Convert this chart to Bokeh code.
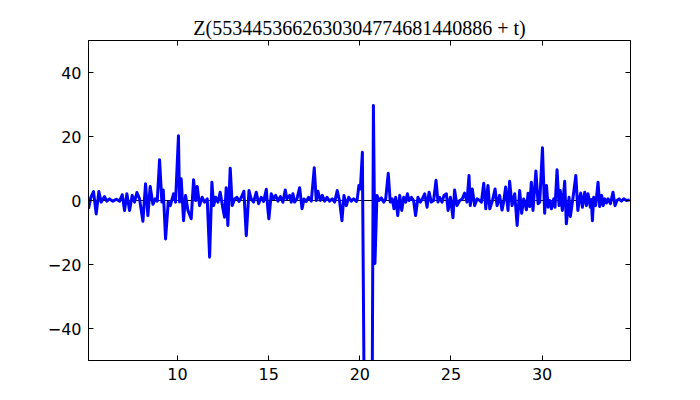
from bokeh.plotting import figure
from bokeh.models import LinearAxis, FixedTicker, Range1d, CustomJSTickFormatter, Span
from bokeh.embed import file_html
from bokeh.resources import INLINE

# (t, Z) – local extrema of the plotted curve
t_vals = [
    5.117, 5.245, 5.39, 5.538, 5.684, 5.81, 5.995, 6.12, 6.27, 6.45, 6.64, 6.82,
    6.965, 7.093, 7.22, 7.367, 7.514, 7.64, 7.77, 7.916, 8.099, 8.245, 8.373, 8.5,
    8.648, 8.775, 8.886, 9.014, 9.14, 9.215, 9.343, 9.49, 9.6, 9.782, 9.89,
    10.05, 10.11, 10.2, 10.33, 10.44, 10.57, 10.75, 10.88, 10.99, 11.08, 11.21,
    11.35, 11.48, 11.63, 11.76, 11.885, 11.98, 12.09, 12.215, 12.34, 12.49, 12.58,
    12.67, 12.76, 12.89, 13.0, 13.13, 13.26, 13.37, 13.5, 13.64, 13.77, 13.92,
    14.04, 14.17, 14.32, 14.45, 14.59, 14.72, 14.87, 14.96,
    15.01, 15.14, 15.27, 15.38, 15.51, 15.64, 15.78, 15.91, 16.0, 16.15, 16.24,
    16.33, 16.42, 16.55, 16.7, 16.83, 16.94, 17.06, 17.19, 17.34, 17.5, 17.61,
    17.7, 17.83, 17.94, 18.07, 18.2, 18.34, 18.49, 18.62, 18.76, 18.89, 19.02,
    19.13, 19.26, 19.39, 19.53, 19.66, 19.81,
    19.86, 19.95, 20.03, 20.14, 20.3, 20.5, 20.68, 20.745, 20.83, 20.94, 21.05,
    21.18, 21.31, 21.42, 21.56, 21.67, 21.78, 21.875, 21.97, 22.08, 22.19, 22.3,
    22.41, 22.52, 22.61, 22.7, 22.83, 22.95, 23.06, 23.19, 23.32, 23.43, 23.56,
    23.69, 23.8, 23.92, 24.05, 24.18, 24.29, 24.38, 24.51, 24.62,
    24.75, 24.84, 24.97, 25.11, 25.2, 25.33, 25.48, 25.62, 25.75, 25.88, 25.99,
    26.06, 26.17, 26.3, 26.43, 26.58, 26.67, 26.8, 26.91, 27.03, 27.13, 27.27,
    27.42, 27.53, 27.67, 27.8, 27.89, 28.0, 28.13, 28.22, 28.35, 28.5, 28.63,
    28.77, 28.88, 28.99, 29.14, 29.23, 29.32, 29.41, 29.5, 29.66, 29.78, 29.87,
    30.02, 30.14, 30.24, 30.33, 30.42, 30.51, 30.64, 30.71, 30.82, 30.93, 31.0,
    31.11, 31.24, 31.33, 31.48, 31.55, 31.7, 31.85, 31.96, 32.05, 32.12, 32.21,
    32.34, 32.43, 32.52, 32.65, 32.7, 32.76, 32.83, 32.94, 33.07, 33.16, 33.27,
    33.35, 33.44, 33.53, 33.62, 33.75, 33.89, 34.0, 34.11, 34.22, 34.35, 34.48,
    34.63, 34.81,
]
z_vals = [
    -2.6, 1.0, 2.8, -4.2, 2.8, -0.5, 1.2, -0.2, 0.5, -0.2, 0.4, -0.2,
    1.8, -3.1, 2.1, -3.1, 1.6, -0.5, 2.5, 0.5, -6.5, 5.2, -4.7, 4.4,
    -1.2, 0.5, -0.2, 12.7, -0.5, 3.3, -12.0, -0.5, -1.6, 2.1, -0.5,
    20.2, -0.5, 6.8, -6.3, 1.6, -3.1, -5.7, 6.5, 0.0, 4.4, -1.6,
    1.0, -0.5, 0.5, -17.7, 5.7, -1.6, 1.0, -0.5, 2.6, -2.6, -5.2,
    4.0, -7.8, 10.1, -1.6, 0.5, 1.0, -0.3, 1.0, 2.9, -11.0, 3.1,
    0.5, -0.5, 2.6, -1.0, 1.0, -0.3, 3.5, -3.1,
    -5.7, 2.1, 0.5, 1.6, -0.2, 1.2, -0.5, 3.3, 0.5, 1.6, -0.5,
    2.1, -0.5, 0.5, 4.0, -2.6, 0.5, -0.3, 1.0, -0.2, 10.2, 0.0,
    2.9, 0.0, 1.6, -0.2, 1.0, -0.2, 0.5, -0.5, 3.1, -0.2, -6.3,
    1.6, -1.6, 1.0, -0.2, 0.5, -0.3,
    0.5, 4.7, 3.6, 15.1, -110.0, -130.0, -60.0, 29.7, -19.7, 1.6, 0.0,
    0.8, -0.5, 0.5, 8.5, -0.5, 0.5, -2.6, 1.0, -4.7, 1.6, -3.1,
    1.0, -0.5, 2.1, 0.0, 1.0, 0.0, -4.7, 1.0, -0.5, 0.5, 2.1,
    -2.1, 2.6, -0.5, 0.0, 6.3, -0.5, 1.0, -0.5, 1.6,
    2.1, -3.1, 1.0, -5.4, 3.3, -1.6, 0.0, 0.5, 2.3, -0.5, 7.8,
    -1.6, 3.6, -1.6, 0.5, 0.0, -0.5, 5.4, -2.6, 4.7, -2.6, -0.2,
    3.6, -1.6, 1.6, -3.0, -0.5, 4.2, -3.1, 6.0, -1.6, 2.1, -7.8,
    3.1, -4.0, 0.5, -2.9, 2.3, -1.9, 5.7, -3.1, 9.2, -1.0, -0.5,
    16.5, -4.0, 4.7, -2.1, 0.0, -2.6, 0.5, -2.1, 9.6, -1.6, 3.1,
    -3.1, 6.0, -7.3, 1.0, -5.0, 1.0, 7.8, -3.1, 0.5, 2.3, -2.1,
    2.6, -1.6, 2.1, -2.1, 0.3, -6.3, 1.0, -1.6, 5.7, -1.9, 1.6,
    -1.6, 0.5, -0.8, 0.5, -1.0, 2.6, -1.6, 0.0, 0.5, -0.2, 0.5,
    0.0, 0.2,
]

x_ticks = [10, 15, 20, 25, 30]
y_ticks = [-40, -20, 0, 20, 40]
title_text = "Z(5534453662630304774681440886 + t)"

p = figure(
    output_backend="svg", toolbar_location=None,
    frame_width=542, frame_height=320,
    min_border_left=88, min_border_right=60, min_border_top=40, min_border_bottom=32,
    x_range=Range1d(5.115, 34.85), y_range=Range1d(-50, 50),
    x_axis_location=None, y_axis_location=None,
    background_fill_color="white", border_fill_color="white",
)
p.title.text = title_text
p.title.text_font = "Liberation Serif"
p.title.text_font_size = "20px"
p.title.text_font_style = "normal"
p.title.align = "center"
p.title.text_color = "black"
p.title.standoff = 3

p.xgrid.visible = False
p.ygrid.visible = False
p.outline_line_color = "black"
p.outline_line_width = 1
p.outline_line_alpha = 1

minus = CustomJSTickFormatter(code="return tick < 0 ? '\u2212' + Math.abs(tick) : tick.toString();")
blank = CustomJSTickFormatter(code="return '';")

def make_axis(ticks, show_labels):
    ax = LinearAxis(ticker=FixedTicker(ticks=ticks), formatter=minus if show_labels else blank)
    ax.major_tick_in = 5
    ax.major_tick_out = 0
    ax.minor_tick_in = 0
    ax.minor_tick_out = 0
    ax.axis_line_color = "black"
    ax.major_tick_line_color = "black"
    ax.major_label_text_font = "DejaVu Sans"
    ax.major_label_text_color = "black"
    ax.major_label_text_font_size = "16px"
    ax.major_label_standoff = 7 if show_labels else 0
    return ax

p.add_layout(make_axis(x_ticks, True), "below")
p.add_layout(make_axis(y_ticks, True), "left")
p.add_layout(make_axis(x_ticks, False), "above")
p.add_layout(make_axis(y_ticks, False), "right")

# horizontal axis line through y = 0 (under the curve)
p.add_layout(Span(location=0, dimension="width", line_color="black",
                  line_width=1, level="underlay"))

p.line(t_vals, z_vals, line_color="#0000ff", line_width=3, line_join="round")

open("out.html", "w").write(file_html(p, INLINE))
